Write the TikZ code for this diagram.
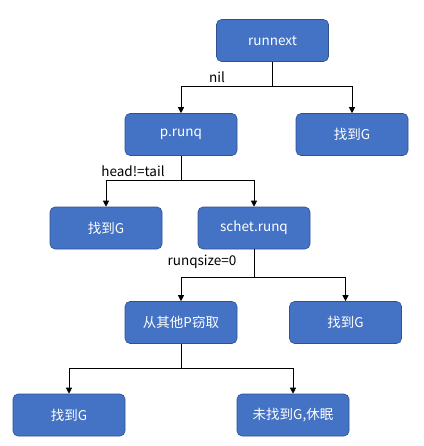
\documentclass[tikz,border=0pt]{standalone}
\usepackage{fontspec}
\newfontfamily\cjk{Noto Sans CJK SC}
\usetikzlibrary{arrows.meta}
\definecolor{boxblue}{HTML}{4472C4}
\definecolor{boxedge}{HTML}{2F528F}
\begin{document}
\begin{tikzpicture}[x=1pt,y=-1pt,
    box/.style={draw=boxedge, fill=boxblue, rounded corners=5pt, minimum width=112pt,
      minimum height=42pt, text=white, font=\cjk\fontsize{13.5}{16}\selectfont, line width=0.6pt},
    lbl/.style={font=\cjk\fontsize{13.5}{16}\selectfont, inner sep=0pt},
    arr/.style={-{Triangle[width=6pt,length=6pt]}, line width=0.8pt}]
  \useasboundingbox (0,0) rectangle (423,446);
  \node[box] (runnext) at (272.5,40.5) {runnext};
  \node[box] (prunq) at (181,134.5) {p.runq};
  \node[box] (found1) at (352,134.5) {找到G};
  \node[box] (found2) at (106,228) {找到G};
  \node[box] (schet) at (254,228) {schet.runq};
  \node[box] (steal) at (181,322.5) {从其他P窃取};
  \node[box] (found3) at (345.5,322.5) {找到G};
  \node[box] (found4) at (69,415) {找到G};
  \node[box] (sleep) at (293,415) {未找到G,休眠};
  \node[lbl] (nil) at (217,77) {nil};
  \node[lbl] (ht) at (133,171) {head!=tail};
  \node[lbl] (rq) at (202,262) {runqsize=0};
  \draw[arr] (runnext.south) -- ++(0,25) -| (prunq.north);
  \draw[arr] (runnext.south) -- ++(0,25) -| (found1.north);
  \draw[arr] (prunq.south) -- ++(0,25) -| (found2.north);
  \draw[arr] (prunq.south) -- ++(0,25) -| (schet.north);
  \draw[arr] (schet.south) -- ++(0,28) -| (steal.north);
  \draw[arr] (schet.south) -- ++(0,28) -| (found3.north);
  \draw[arr] (steal.south) -- ++(0,25) -| (found4.north);
  \draw[arr] (steal.south) -- ++(0,25) -| (sleep.north);
\end{tikzpicture}
\end{document}
